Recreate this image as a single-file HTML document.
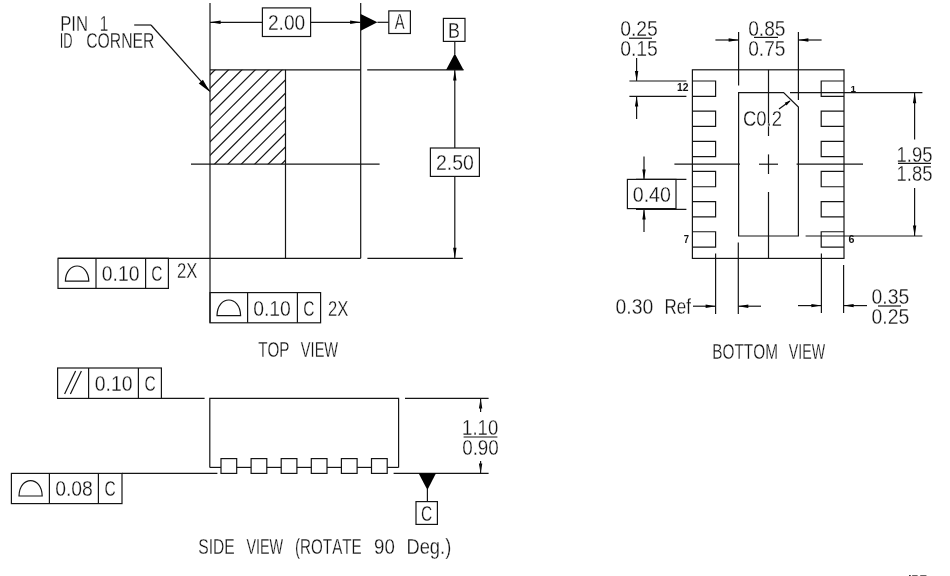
<!DOCTYPE html>
<html><head><meta charset="utf-8"><title>Package outline</title>
<style>
html,body{margin:0;padding:0;background:#fff;}
body{width:950px;height:576px;overflow:hidden;}
svg{display:block;font-family:"Liberation Sans",sans-serif;font-kerning:none;}
</style></head><body>
<svg width="950" height="576" viewBox="0 0 950 576">
<rect width="950" height="576" fill="#fff"/>
<g opacity="0.999">
<line x1="210.00" y1="3.00" x2="210.00" y2="322.80" stroke="#141414" stroke-width="1.2"/>
<line x1="360.70" y1="3.00" x2="360.70" y2="258.30" stroke="#141414" stroke-width="1.2"/>
<line x1="285.50" y1="69.80" x2="285.50" y2="258.30" stroke="#141414" stroke-width="1.2"/>
<line x1="210.00" y1="69.80" x2="360.70" y2="69.80" stroke="#141414" stroke-width="1.2"/>
<line x1="58.00" y1="258.30" x2="360.70" y2="258.30" stroke="#141414" stroke-width="1.2"/>
<line x1="191.00" y1="164.20" x2="379.60" y2="164.20" stroke="#141414" stroke-width="1.2"/>
<clipPath id="hc"><rect x="210.0" y="69.8" width="75.50" height="94.40"/></clipPath><g clip-path="url(#hc)">
<line x1="208.00" y1="76.90" x2="287.50" y2="-2.60" stroke="#141414" stroke-width="1.2"/>
<line x1="208.00" y1="90.30" x2="287.50" y2="10.80" stroke="#141414" stroke-width="1.2"/>
<line x1="208.00" y1="103.70" x2="287.50" y2="24.20" stroke="#141414" stroke-width="1.2"/>
<line x1="208.00" y1="117.10" x2="287.50" y2="37.60" stroke="#141414" stroke-width="1.2"/>
<line x1="208.00" y1="130.50" x2="287.50" y2="51.00" stroke="#141414" stroke-width="1.2"/>
<line x1="208.00" y1="143.90" x2="287.50" y2="64.40" stroke="#141414" stroke-width="1.2"/>
<line x1="208.00" y1="157.30" x2="287.50" y2="77.80" stroke="#141414" stroke-width="1.2"/>
<line x1="208.00" y1="170.70" x2="287.50" y2="91.20" stroke="#141414" stroke-width="1.2"/>
<line x1="208.00" y1="184.10" x2="287.50" y2="104.60" stroke="#141414" stroke-width="1.2"/>
<line x1="208.00" y1="197.50" x2="287.50" y2="118.00" stroke="#141414" stroke-width="1.2"/>
<line x1="208.00" y1="210.90" x2="287.50" y2="131.40" stroke="#141414" stroke-width="1.2"/>
<line x1="208.00" y1="224.30" x2="287.50" y2="144.80" stroke="#141414" stroke-width="1.2"/>
<line x1="208.00" y1="237.70" x2="287.50" y2="158.20" stroke="#141414" stroke-width="1.2"/>
</g>
<line x1="210.00" y1="22.30" x2="262.40" y2="22.30" stroke="#141414" stroke-width="1.2"/>
<line x1="310.60" y1="22.30" x2="360.70" y2="22.30" stroke="#141414" stroke-width="1.2"/>
<polygon points="210.00,22.30 220.60,20.60 220.60,24.00" fill="#000"/>
<polygon points="360.70,22.30 350.10,24.00 350.10,20.60" fill="#000"/>
<rect x="262.40" y="7.90" width="48.20" height="28.60" fill="none" stroke="#141414" stroke-width="1.2"/>
<text transform="translate(267.96,30.13) scale(0.8790,1)" font-size="21.81" fill="#111" stroke="#fff" stroke-width="0.28">2.00</text>
<polygon points="360.70,14.00 360.70,30.70 377.40,22.30" fill="#000"/>
<line x1="377.40" y1="22.30" x2="388.60" y2="22.30" stroke="#141414" stroke-width="1.2"/>
<rect x="388.80" y="10.90" width="21.60" height="22.60" fill="none" stroke="#141414" stroke-width="1.2"/>
<text transform="translate(394.84,28.73) scale(0.6784,1)" font-size="21.81" fill="#111" stroke="#fff" stroke-width="0.28">A</text>
<rect x="443.40" y="18.40" width="21.60" height="23.00" fill="none" stroke="#141414" stroke-width="1.2"/>
<text transform="translate(448.09,37.53) scale(0.7986,1)" font-size="22.39" fill="#111" stroke="#fff" stroke-width="0.28">B</text>
<line x1="454.80" y1="41.40" x2="454.80" y2="54.00" stroke="#141414" stroke-width="1.2"/>
<polygon points="454.80,53.60 446.00,70.10 463.60,70.10" fill="#000"/>
<line x1="367.20" y1="69.80" x2="463.60" y2="69.80" stroke="#141414" stroke-width="1.2"/>
<line x1="367.40" y1="258.30" x2="462.80" y2="258.30" stroke="#141414" stroke-width="1.2"/>
<line x1="454.80" y1="69.80" x2="454.80" y2="148.00" stroke="#141414" stroke-width="1.2"/>
<line x1="454.80" y1="176.40" x2="454.80" y2="258.30" stroke="#141414" stroke-width="1.2"/>
<polygon points="454.80,69.80 456.50,80.40 453.10,80.40" fill="#000"/>
<polygon points="454.80,258.30 453.10,247.70 456.50,247.70" fill="#000"/>
<rect x="430.40" y="148.00" width="49.00" height="28.40" fill="none" stroke="#141414" stroke-width="1.2"/>
<text transform="translate(435.94,170.33) scale(0.8821,1)" font-size="22.10" fill="#111" stroke="#fff" stroke-width="0.28">2.50</text>
<text transform="translate(60.18,30.53) scale(0.7875,1)" font-size="21.23" fill="#111" stroke="#fff" stroke-width="0.28">PIN</text>
<text transform="translate(99.77,30.53) scale(0.7193,1)" font-size="21.23" fill="#111" stroke="#fff" stroke-width="0.28">1</text>
<text transform="translate(59.75,48.13) scale(0.5841,1)" font-size="22.10" fill="#111" stroke="#fff" stroke-width="0.28">ID</text>
<text transform="translate(86.13,48.13) scale(0.7132,1)" font-size="22.10" fill="#111" stroke="#fff" stroke-width="0.28">CORNER</text>
<line x1="134.20" y1="25.00" x2="151.00" y2="25.00" stroke="#141414" stroke-width="1.2"/>
<line x1="151.00" y1="25.00" x2="210.00" y2="91.40" stroke="#141414" stroke-width="1.2"/>
<polygon points="210.00,92.00 198.78,83.51 202.89,79.86" fill="#000"/>
<rect x="58.00" y="258.30" width="110.40" height="30.10" fill="none" stroke="#141414" stroke-width="1.2"/>
<line x1="96.00" y1="258.30" x2="96.00" y2="288.40" stroke="#141414" stroke-width="1.2"/>
<line x1="145.60" y1="258.30" x2="145.60" y2="288.40" stroke="#141414" stroke-width="1.2"/>
<path d="M65.40,281.20 L88.80,281.20 C88.30,260.93 65.90,260.93 65.40,281.20 Z" fill="none" stroke="#141414" stroke-width="1.2"/>
<text transform="translate(101.74,281.13) scale(0.8773,1)" font-size="22.10" fill="#111" stroke="#fff" stroke-width="0.28">0.10</text>
<text transform="translate(151.14,281.13) scale(0.7014,1)" font-size="22.10" fill="#111" stroke="#fff" stroke-width="0.28">C</text>
<text transform="translate(177.08,277.93) scale(0.7348,1)" font-size="22.68" fill="#111" stroke="#fff" stroke-width="0.28">2X</text>
<rect x="210.00" y="292.60" width="110.60" height="30.20" fill="none" stroke="#141414" stroke-width="1.2"/>
<line x1="247.60" y1="292.60" x2="247.60" y2="322.80" stroke="#141414" stroke-width="1.2"/>
<line x1="297.40" y1="292.60" x2="297.40" y2="322.80" stroke="#141414" stroke-width="1.2"/>
<path d="M217.00,315.60 L240.60,315.60 C240.10,294.80 217.50,294.80 217.00,315.60 Z" fill="none" stroke="#141414" stroke-width="1.2"/>
<text transform="translate(253.14,315.73) scale(0.8660,1)" font-size="22.39" fill="#111" stroke="#fff" stroke-width="0.28">0.10</text>
<text transform="translate(303.14,315.73) scale(0.6924,1)" font-size="22.39" fill="#111" stroke="#fff" stroke-width="0.28">C</text>
<text transform="translate(328.08,316.33) scale(0.7443,1)" font-size="22.39" fill="#111" stroke="#fff" stroke-width="0.28">2X</text>
<text transform="translate(258.21,356.73) scale(0.6876,1)" font-size="22.10" fill="#111" stroke="#fff" stroke-width="0.28">TOP</text>
<text transform="translate(300.84,356.73) scale(0.6607,1)" font-size="22.10" fill="#111" stroke="#fff" stroke-width="0.28">VIEW</text>
<rect x="57.60" y="368.00" width="103.80" height="30.40" fill="none" stroke="#141414" stroke-width="1.2"/>
<line x1="88.60" y1="368.00" x2="88.60" y2="398.40" stroke="#141414" stroke-width="1.2"/>
<line x1="138.40" y1="368.00" x2="138.40" y2="398.40" stroke="#141414" stroke-width="1.2"/>
<line x1="64.60" y1="394.00" x2="75.60" y2="371.00" stroke="#141414" stroke-width="1.2"/>
<line x1="70.40" y1="394.00" x2="81.40" y2="371.00" stroke="#141414" stroke-width="1.2"/>
<text transform="translate(94.74,391.13) scale(0.8773,1)" font-size="22.10" fill="#111" stroke="#fff" stroke-width="0.28">0.10</text>
<text transform="translate(144.54,391.13) scale(0.7014,1)" font-size="22.10" fill="#111" stroke="#fff" stroke-width="0.28">C</text>
<line x1="161.40" y1="398.40" x2="204.60" y2="398.40" stroke="#141414" stroke-width="1.2"/>
<path d="M209.8,467.4 L209.8,398.4 L398.6,398.4 L398.6,467.4" fill="none" stroke="#141414" stroke-width="1.2"/>
<line x1="209.80" y1="467.40" x2="221.00" y2="467.40" stroke="#141414" stroke-width="1.2"/>
<rect x="221.00" y="458.60" width="15.70" height="14.80" fill="none" stroke="#141414" stroke-width="1.2"/>
<line x1="236.70" y1="467.40" x2="251.10" y2="467.40" stroke="#141414" stroke-width="1.2"/>
<rect x="251.10" y="458.60" width="15.70" height="14.80" fill="none" stroke="#141414" stroke-width="1.2"/>
<line x1="266.80" y1="467.40" x2="281.20" y2="467.40" stroke="#141414" stroke-width="1.2"/>
<rect x="281.20" y="458.60" width="15.70" height="14.80" fill="none" stroke="#141414" stroke-width="1.2"/>
<line x1="296.90" y1="467.40" x2="311.30" y2="467.40" stroke="#141414" stroke-width="1.2"/>
<rect x="311.30" y="458.60" width="15.70" height="14.80" fill="none" stroke="#141414" stroke-width="1.2"/>
<line x1="327.00" y1="467.40" x2="341.40" y2="467.40" stroke="#141414" stroke-width="1.2"/>
<rect x="341.40" y="458.60" width="15.70" height="14.80" fill="none" stroke="#141414" stroke-width="1.2"/>
<line x1="357.10" y1="467.40" x2="371.50" y2="467.40" stroke="#141414" stroke-width="1.2"/>
<rect x="371.50" y="458.60" width="15.70" height="14.80" fill="none" stroke="#141414" stroke-width="1.2"/>
<line x1="387.20" y1="467.40" x2="398.60" y2="467.40" stroke="#141414" stroke-width="1.2"/>
<rect x="11.40" y="473.40" width="110.60" height="30.20" fill="none" stroke="#141414" stroke-width="1.2"/>
<line x1="49.40" y1="473.40" x2="49.40" y2="503.60" stroke="#141414" stroke-width="1.2"/>
<line x1="98.40" y1="473.40" x2="98.40" y2="503.60" stroke="#141414" stroke-width="1.2"/>
<path d="M19.00,496.00 L42.20,496.00 C41.70,475.47 19.50,475.47 19.00,496.00 Z" fill="none" stroke="#141414" stroke-width="1.2"/>
<text transform="translate(55.14,496.33) scale(0.8660,1)" font-size="22.39" fill="#111" stroke="#fff" stroke-width="0.28">0.08</text>
<text transform="translate(104.54,496.33) scale(0.6924,1)" font-size="22.39" fill="#111" stroke="#fff" stroke-width="0.28">C</text>
<line x1="122.00" y1="473.40" x2="217.40" y2="473.40" stroke="#141414" stroke-width="1.2"/>
<line x1="405.00" y1="398.40" x2="488.60" y2="398.40" stroke="#141414" stroke-width="1.2"/>
<line x1="393.60" y1="473.40" x2="488.60" y2="473.40" stroke="#141414" stroke-width="1.2"/>
<polygon points="480.60,398.40 482.30,408.40 478.90,408.40" fill="#000"/>
<line x1="480.60" y1="398.40" x2="480.60" y2="412.00" stroke="#141414" stroke-width="1.2"/>
<polygon points="480.60,473.40 478.90,463.40 482.30,463.40" fill="#000"/>
<line x1="480.60" y1="461.00" x2="480.60" y2="473.40" stroke="#141414" stroke-width="1.2"/>
<text transform="translate(462.12,434.53) scale(0.8509,1)" font-size="21.81" fill="#111" stroke="#fff" stroke-width="0.28">1.10</text>
<line x1="463.60" y1="437.00" x2="497.40" y2="437.00" stroke="#141414" stroke-width="1.2"/>
<text transform="translate(462.16,455.33) scale(0.8761,1)" font-size="21.52" fill="#111" stroke="#fff" stroke-width="0.28">0.90</text>
<polygon points="418.60,473.20 436.00,473.20 427.40,490.00" fill="#000"/>
<line x1="427.40" y1="489.00" x2="427.40" y2="501.60" stroke="#141414" stroke-width="1.2"/>
<rect x="416.00" y="501.60" width="21.40" height="22.80" fill="none" stroke="#141414" stroke-width="1.2"/>
<text transform="translate(420.94,521.13) scale(0.7014,1)" font-size="22.10" fill="#111" stroke="#fff" stroke-width="0.28">C</text>
<text transform="translate(198.21,553.93) scale(0.6906,1)" font-size="22.68" fill="#111" stroke="#fff" stroke-width="0.28">SIDE</text>
<text transform="translate(246.44,553.93) scale(0.6334,1)" font-size="22.68" fill="#111" stroke="#fff" stroke-width="0.28">VIEW</text>
<text transform="translate(295.00,553.93) scale(0.6704,1)" font-size="22.68" fill="#111" stroke="#fff" stroke-width="0.28">(ROTATE</text>
<text transform="translate(374.07,553.93) scale(0.8244,1)" font-size="22.68" fill="#111" stroke="#fff" stroke-width="0.28">90</text>
<text transform="translate(406.45,553.93) scale(0.8082,1)" font-size="22.68" fill="#111" stroke="#fff" stroke-width="0.28">Deg.)</text>
<rect x="692.40" y="69.80" width="151.60" height="188.60" fill="none" stroke="#141414" stroke-width="1.2"/>
<path d="M692.4,81.00 L715.6,81.00 L715.6,96.30 L692.4,96.30" fill="none" stroke="#141414" stroke-width="1.2"/>
<path d="M844,81.00 L821.2,81.00 L821.2,96.30 L844,96.30" fill="none" stroke="#141414" stroke-width="1.2"/>
<path d="M692.4,111.15 L715.6,111.15 L715.6,126.45 L692.4,126.45" fill="none" stroke="#141414" stroke-width="1.2"/>
<path d="M844,111.15 L821.2,111.15 L821.2,126.45 L844,126.45" fill="none" stroke="#141414" stroke-width="1.2"/>
<path d="M692.4,141.30 L715.6,141.30 L715.6,156.60 L692.4,156.60" fill="none" stroke="#141414" stroke-width="1.2"/>
<path d="M844,141.30 L821.2,141.30 L821.2,156.60 L844,156.60" fill="none" stroke="#141414" stroke-width="1.2"/>
<path d="M692.4,171.45 L715.6,171.45 L715.6,186.75 L692.4,186.75" fill="none" stroke="#141414" stroke-width="1.2"/>
<path d="M844,171.45 L821.2,171.45 L821.2,186.75 L844,186.75" fill="none" stroke="#141414" stroke-width="1.2"/>
<path d="M692.4,201.60 L715.6,201.60 L715.6,216.90 L692.4,216.90" fill="none" stroke="#141414" stroke-width="1.2"/>
<path d="M844,201.60 L821.2,201.60 L821.2,216.90 L844,216.90" fill="none" stroke="#141414" stroke-width="1.2"/>
<path d="M692.4,231.75 L715.6,231.75 L715.6,247.05 L692.4,247.05" fill="none" stroke="#141414" stroke-width="1.2"/>
<path d="M844,231.75 L821.2,231.75 L821.2,247.05 L844,247.05" fill="none" stroke="#141414" stroke-width="1.2"/>
<path d="M783.6,92.6 L738.6,92.6 L738.6,236 L798.4,236 L798.4,107 Z" fill="none" stroke="#141414" stroke-width="1.2"/>
<line x1="768.50" y1="69.80" x2="768.50" y2="136.00" stroke="#141414" stroke-width="1.2"/>
<line x1="768.50" y1="154.40" x2="768.50" y2="174.00" stroke="#141414" stroke-width="1.2"/>
<line x1="768.50" y1="192.00" x2="768.50" y2="258.40" stroke="#141414" stroke-width="1.2"/>
<line x1="674.40" y1="164.20" x2="740.00" y2="164.20" stroke="#141414" stroke-width="1.2"/>
<line x1="759.00" y1="164.20" x2="778.00" y2="164.20" stroke="#141414" stroke-width="1.2"/>
<line x1="796.60" y1="164.20" x2="863.00" y2="164.20" stroke="#141414" stroke-width="1.2"/>
<text transform="translate(742.99,125.53) scale(0.8152,1)" font-size="22.68" fill="#111" stroke="#fff" stroke-width="0.28">C0.2</text>
<line x1="779.00" y1="109.00" x2="790.00" y2="101.00" stroke="#141414" stroke-width="1.2"/>
<polygon points="790.50,100.60 786.59,105.42 784.71,102.84" fill="#000"/>
<text transform="translate(620.14,36.33) scale(0.8549,1)" font-size="22.68" fill="#111" stroke="#fff" stroke-width="0.28">0.25</text>
<line x1="629.00" y1="38.20" x2="652.00" y2="38.20" stroke="#141414" stroke-width="1.2"/>
<text transform="translate(620.14,56.13) scale(0.8890,1)" font-size="21.81" fill="#111" stroke="#fff" stroke-width="0.28">0.15</text>
<line x1="636.60" y1="58.00" x2="636.60" y2="81.00" stroke="#141414" stroke-width="1.2"/>
<polygon points="636.60,81.00 634.90,71.00 638.30,71.00" fill="#000"/>
<line x1="636.60" y1="96.40" x2="636.60" y2="119.00" stroke="#141414" stroke-width="1.2"/>
<polygon points="636.60,96.40 638.30,106.40 634.90,106.40" fill="#000"/>
<line x1="629.40" y1="81.00" x2="686.40" y2="81.00" stroke="#141414" stroke-width="1.2"/>
<line x1="629.40" y1="96.40" x2="686.40" y2="96.40" stroke="#141414" stroke-width="1.2"/>
<text transform="translate(676.93,91.30) scale(1.0200,1)" font-size="10.14" font-weight="bold" fill="#111">12</text>
<text transform="translate(850.56,91.60) scale(1.0342,1)" font-size="9.57" font-weight="bold" fill="#111">1</text>
<text transform="translate(683.77,243.00) scale(0.9068,1)" font-size="10.43" font-weight="bold" fill="#111">7</text>
<text transform="translate(848.62,242.80) scale(1.0275,1)" font-size="10.43" font-weight="bold" fill="#111">6</text>
<text transform="translate(748.15,36.13) scale(0.8792,1)" font-size="21.81" fill="#111" stroke="#fff" stroke-width="0.28">0.85</text>
<line x1="754.00" y1="37.40" x2="778.00" y2="37.40" stroke="#141414" stroke-width="1.2"/>
<text transform="translate(748.15,56.13) scale(0.8792,1)" font-size="21.81" fill="#111" stroke="#fff" stroke-width="0.28">0.75</text>
<line x1="738.60" y1="32.00" x2="738.60" y2="85.60" stroke="#141414" stroke-width="1.2"/>
<line x1="798.40" y1="32.00" x2="798.40" y2="100.00" stroke="#141414" stroke-width="1.2"/>
<line x1="715.40" y1="40.00" x2="738.60" y2="40.00" stroke="#141414" stroke-width="1.2"/>
<polygon points="738.60,40.00 728.60,41.70 728.60,38.30" fill="#000"/>
<line x1="798.40" y1="40.00" x2="821.60" y2="40.00" stroke="#141414" stroke-width="1.2"/>
<polygon points="798.40,40.00 808.40,38.30 808.40,41.70" fill="#000"/>
<line x1="790.00" y1="92.60" x2="922.40" y2="92.60" stroke="#141414" stroke-width="1.2"/>
<line x1="805.60" y1="236.00" x2="922.40" y2="236.00" stroke="#141414" stroke-width="1.2"/>
<line x1="914.60" y1="92.60" x2="914.60" y2="139.40" stroke="#141414" stroke-width="1.2"/>
<polygon points="914.60,92.60 916.30,103.20 912.90,103.20" fill="#000"/>
<line x1="914.60" y1="188.00" x2="914.60" y2="236.00" stroke="#141414" stroke-width="1.2"/>
<polygon points="914.60,236.00 912.90,225.40 916.30,225.40" fill="#000"/>
<text transform="translate(896.53,161.73) scale(0.8573,1)" font-size="21.52" fill="#111" stroke="#fff" stroke-width="0.28">1.95</text>
<line x1="898.00" y1="163.40" x2="931.00" y2="163.40" stroke="#141414" stroke-width="1.2"/>
<text transform="translate(896.53,181.13) scale(0.8573,1)" font-size="21.52" fill="#111" stroke="#fff" stroke-width="0.28">1.85</text>
<line x1="644.00" y1="156.40" x2="644.00" y2="179.40" stroke="#141414" stroke-width="1.2"/>
<polygon points="644.00,179.40 642.30,169.40 645.70,169.40" fill="#000"/>
<line x1="644.00" y1="209.40" x2="644.00" y2="232.00" stroke="#141414" stroke-width="1.2"/>
<polygon points="644.00,209.40 645.70,219.40 642.30,219.40" fill="#000"/>
<line x1="636.00" y1="179.40" x2="686.40" y2="179.40" stroke="#141414" stroke-width="1.2"/>
<line x1="636.00" y1="209.40" x2="686.40" y2="209.40" stroke="#141414" stroke-width="1.2"/>
<rect x="627.40" y="179.40" width="48.60" height="29.20" fill="none" stroke="#141414" stroke-width="1.2"/>
<text transform="translate(632.73,202.13) scale(0.8756,1)" font-size="22.39" fill="#111" stroke="#fff" stroke-width="0.28">0.40</text>
<line x1="715.60" y1="253.60" x2="715.60" y2="314.00" stroke="#141414" stroke-width="1.2"/>
<line x1="738.30" y1="242.40" x2="738.30" y2="314.00" stroke="#141414" stroke-width="1.2"/>
<line x1="693.00" y1="306.20" x2="715.60" y2="306.20" stroke="#141414" stroke-width="1.2"/>
<polygon points="715.60,306.20 705.60,307.90 705.60,304.50" fill="#000"/>
<line x1="738.30" y1="306.20" x2="761.00" y2="306.20" stroke="#141414" stroke-width="1.2"/>
<polygon points="738.30,306.20 748.30,304.50 748.30,307.90" fill="#000"/>
<text transform="translate(615.54,314.13) scale(0.8773,1)" font-size="22.10" fill="#111" stroke="#fff" stroke-width="0.28">0.30</text>
<text transform="translate(664.56,314.13) scale(0.7402,1)" font-size="22.97" fill="#111" stroke="#fff" stroke-width="0.28">Ref</text>
<line x1="821.40" y1="253.60" x2="821.40" y2="313.00" stroke="#141414" stroke-width="1.2"/>
<line x1="843.60" y1="265.00" x2="843.60" y2="313.00" stroke="#141414" stroke-width="1.2"/>
<line x1="798.00" y1="305.60" x2="821.40" y2="305.60" stroke="#141414" stroke-width="1.2"/>
<polygon points="821.40,305.60 811.40,307.30 811.40,303.90" fill="#000"/>
<line x1="843.60" y1="305.60" x2="867.00" y2="305.60" stroke="#141414" stroke-width="1.2"/>
<polygon points="843.60,305.60 853.60,303.90 853.60,307.30" fill="#000"/>
<text transform="translate(871.54,303.93) scale(0.8890,1)" font-size="21.81" fill="#111" stroke="#fff" stroke-width="0.28">0.35</text>
<line x1="878.00" y1="306.00" x2="901.00" y2="306.00" stroke="#141414" stroke-width="1.2"/>
<text transform="translate(871.54,324.13) scale(0.8773,1)" font-size="22.10" fill="#111" stroke="#fff" stroke-width="0.28">0.25</text>
<text transform="translate(712.29,358.73) scale(0.6945,1)" font-size="22.10" fill="#111" stroke="#fff" stroke-width="0.28">BOTTOM</text>
<text transform="translate(788.84,358.73) scale(0.6429,1)" font-size="22.10" fill="#111" stroke="#fff" stroke-width="0.28">VIEW</text>
<text y="583" font-size="10" font-weight="bold"><tspan x="908.6" fill="#000">I</tspan><tspan x="911.4" fill="#666">E</tspan><tspan x="919.4" fill="#666" textLength="7.6" lengthAdjust="spacingAndGlyphs">E</tspan></text>
</g>
</svg>
</body></html>
